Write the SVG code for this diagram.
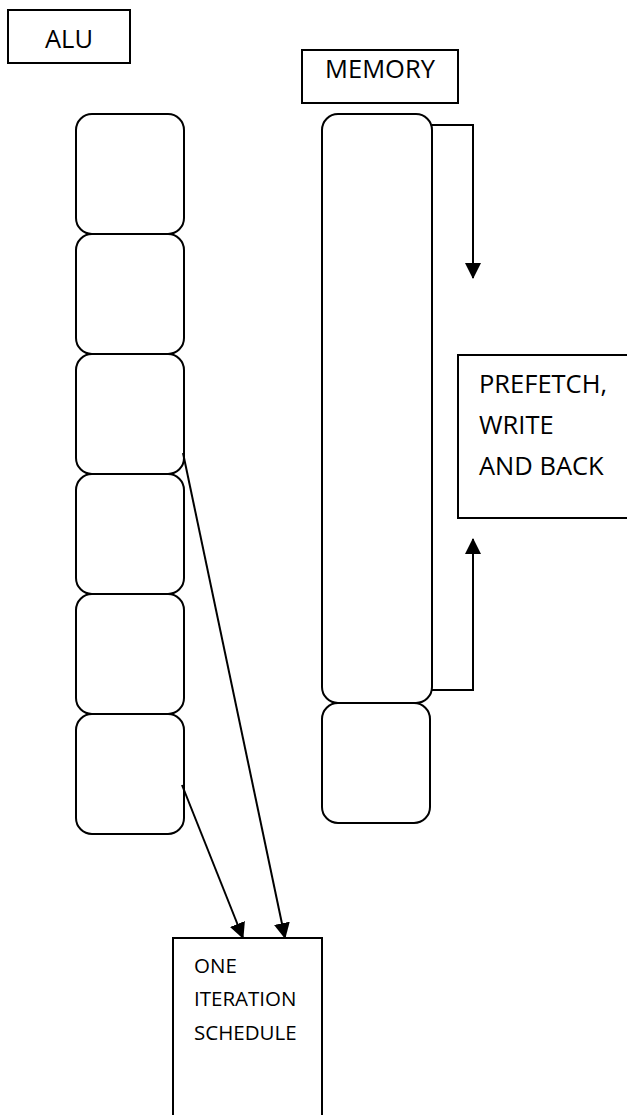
<svg xmlns="http://www.w3.org/2000/svg" width="627" height="1115" viewBox="0 0 627 1115">
<style>
.box{fill:#fff;stroke:#000;stroke-width:2}
.cell{fill:#fff;stroke:#000;stroke-width:2}
.lbl{font-family:"Open Sans",sans-serif;font-size:25.5px;fill:#000}
.sm{font-family:"Open Sans",sans-serif;font-size:20.5px;fill:#000}
.con{fill:none;stroke:#000;stroke-width:2}
</style>
<defs>
<marker id="ah" markerWidth="16" markerHeight="16" viewBox="0 0 16 16" refX="15" refY="8" orient="auto" markerUnits="userSpaceOnUse">
<path d="M0,0 L16,8 L0,16 Z" fill="#000"/>
</marker>
</defs>
<rect width="627" height="1115" fill="#fff"/>
<g id="alu-label">
<rect class="box" x="8" y="10" width="122" height="53"/>
<text class="lbl" x="69" y="48" text-anchor="middle">ALU</text>
</g>
<g id="memory-label">
<rect class="box" x="302" y="50" width="156" height="53"/>
<text class="lbl" x="380" y="78" text-anchor="middle">MEMORY</text>
</g>
<g id="alu-stack">
<rect id="alu1" class="cell" x="76" y="114" width="108" height="120" rx="16"/>
<rect id="alu2" class="cell" x="76" y="234" width="108" height="120" rx="16"/>
<rect id="alu3" class="cell" x="76" y="354" width="108" height="120" rx="16"/>
<rect id="alu4" class="cell" x="76" y="474" width="108" height="120" rx="16"/>
<rect id="alu5" class="cell" x="76" y="594" width="108" height="120" rx="16"/>
<rect id="alu6" class="cell" x="76" y="714" width="108" height="120" rx="16"/>
</g>
<g id="memory-stack">
<rect id="mem1" class="cell" x="322" y="114" width="110" height="589" rx="16"/>
<rect id="mem2" class="cell" x="322" y="703" width="108" height="120" rx="16"/>
</g>
<g id="prefetch">
<path class="box" d="M630,355 L458,355 L458,518 L630,518"/>
<text class="lbl" x="479" y="393">PREFETCH,</text>
<text class="lbl" x="479" y="434">WRITE</text>
<text class="lbl" x="479" y="475">AND BACK</text>
</g>
<g id="schedule">
<rect class="box" x="173" y="938" width="149" height="190"/>
<text class="sm" x="194" y="973">ONE</text>
<text class="sm" x="194" y="1006">ITERATION</text>
<text class="sm" x="194" y="1040">SCHEDULE</text>
</g>
<g id="connectors">
<path class="con" d="M432,125 L473,125 L473,278" marker-end="url(#ah)"/>
<path class="con" d="M432,690 L473,690 L473,539" marker-end="url(#ah)"/>
<path class="con" d="M183,453 L285,938" marker-end="url(#ah)"/>
<path class="con" d="M182,785 L243,938" marker-end="url(#ah)"/>
</g>
</svg>
